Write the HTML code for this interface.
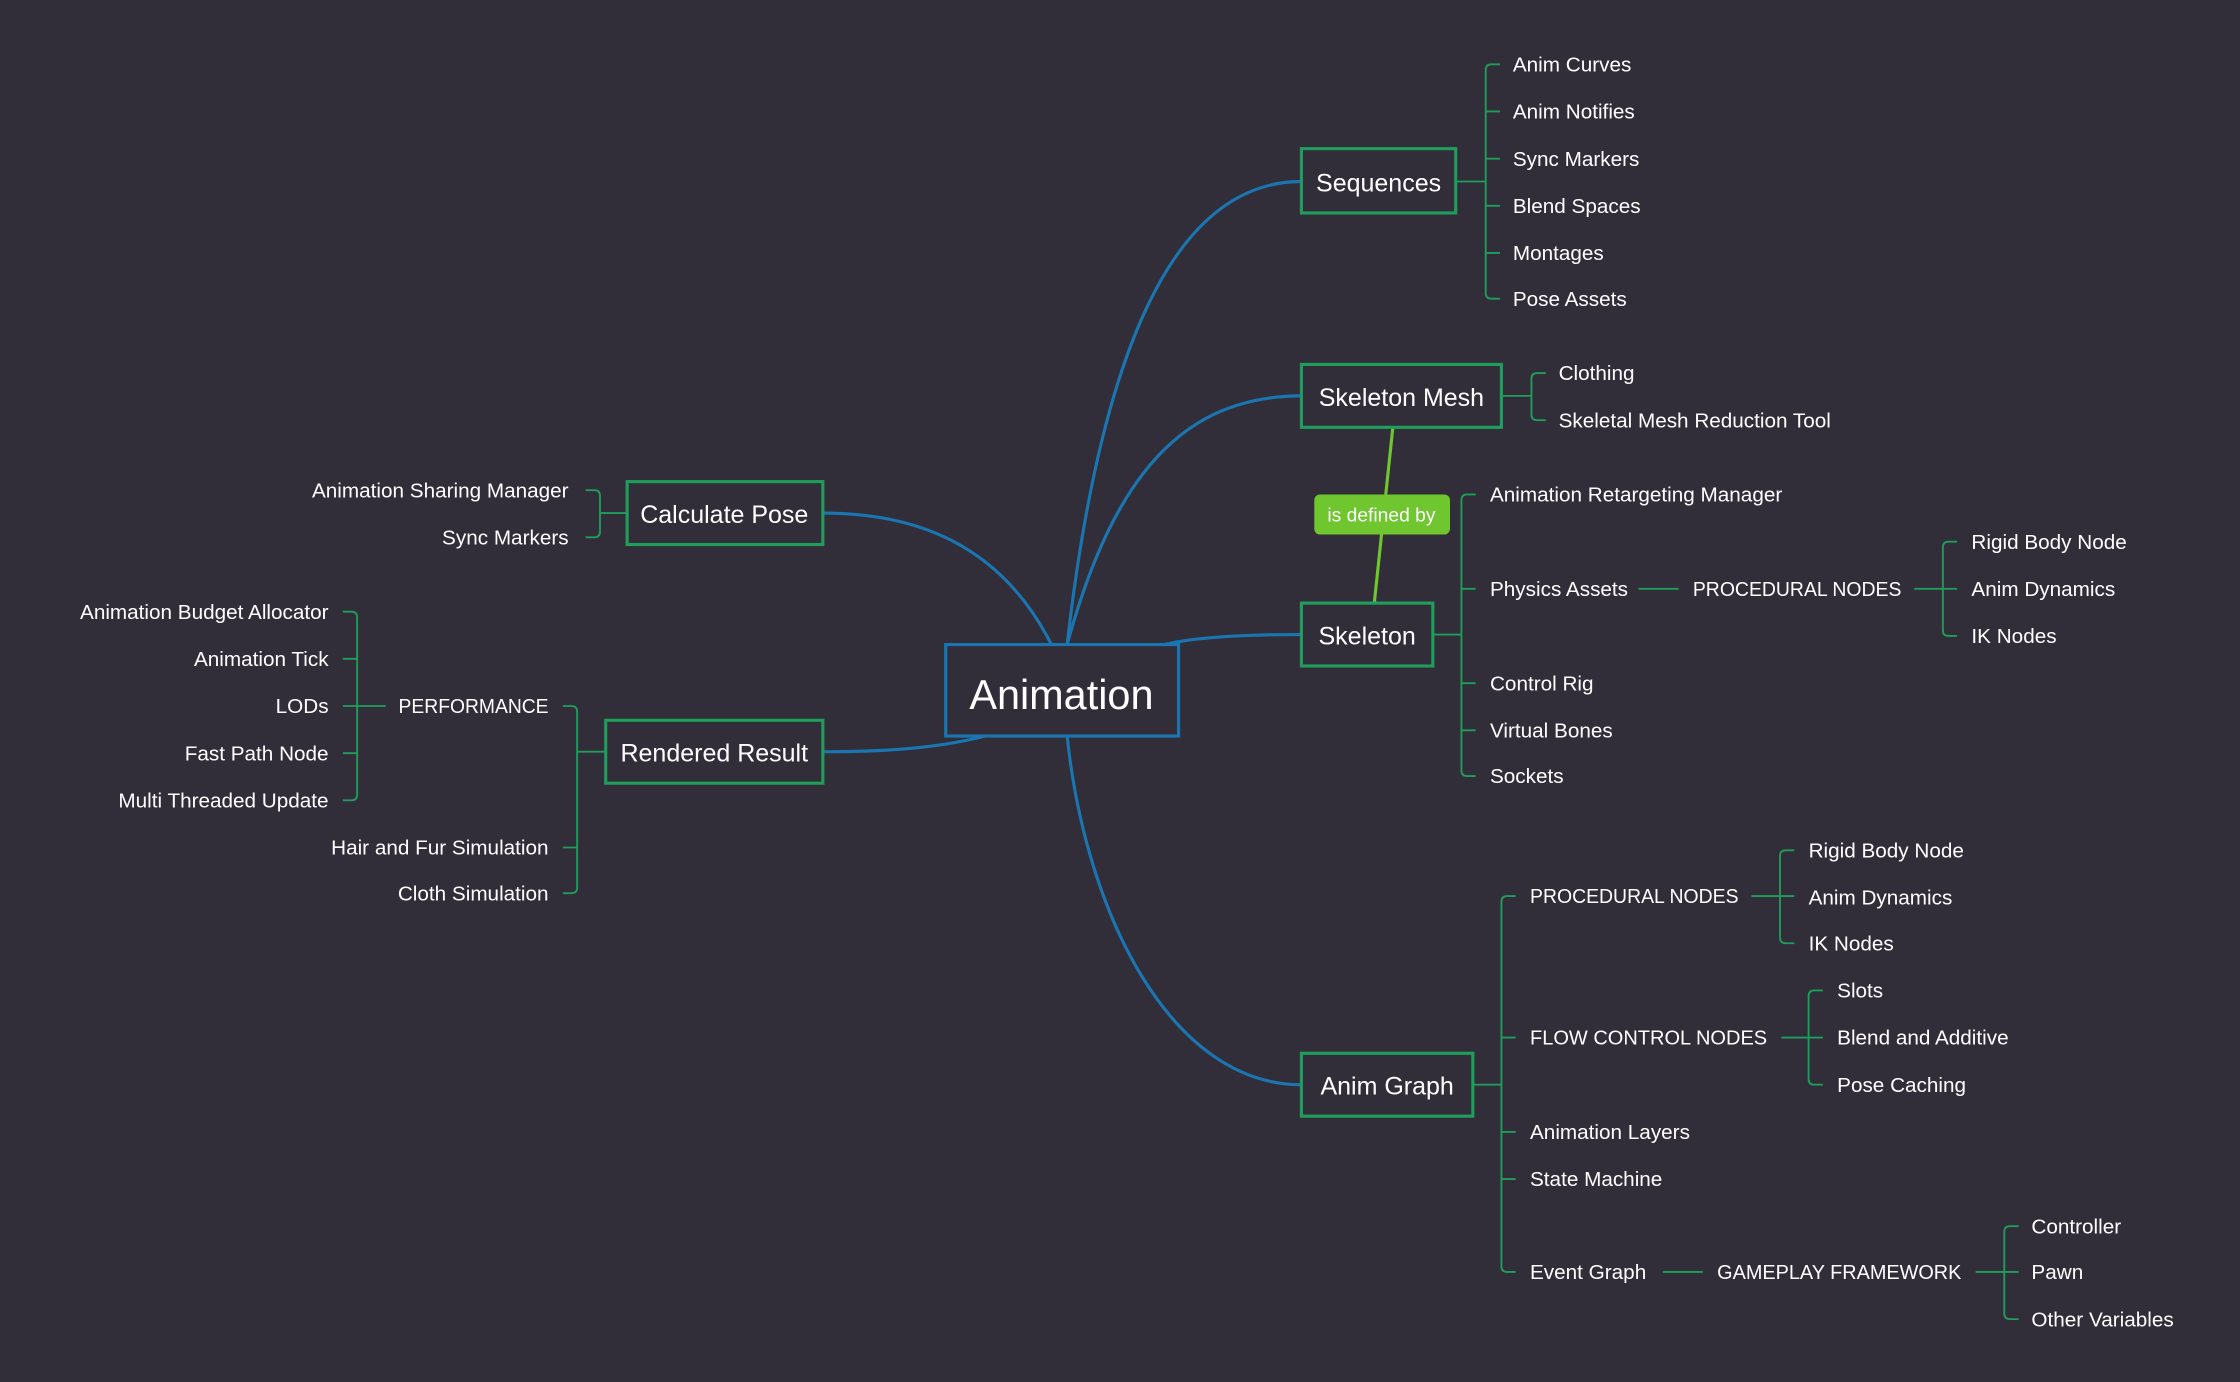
<!DOCTYPE html>
<html><head><meta charset="utf-8"><style>
html,body{margin:0;padding:0;background:#312e39;}
svg{display:block}
text{font-family:"Liberation Sans","DejaVu Sans",sans-serif;fill:#fff;}
</style></head><body>
<svg width="2240" height="1382" viewBox="0 0 1568 967" preserveAspectRatio="none" xmlns="http://www.w3.org/2000/svg">
<rect width="1568" height="967" fill="#312e39"/>
<g fill="none" stroke="#1a75b0" stroke-width="2.2">
<path d="M747,451 C770,250 820,127 911,127"/>
<path d="M747,451 C780,330 830,277 911,277"/>
<path d="M815,451 C840,445 880,444 911,444"/>
<path d="M747,515 C760,640 820,759 911,759"/>
<path d="M736,451 C700,380 640,359 576,359"/>
<path d="M690,515 C650,525 610,526 576,526"/>
</g>
<path d="M975,299 L962,422" stroke="#6fc62f" stroke-width="2.2" fill="none"/>
<g fill="none" stroke="#1f9d5b" stroke-width="1.3">
<path d="M1019,127 H1040 M1050,45 H1044 Q1040,45 1040,49 V205 Q1040,209 1044,209 H1050 M1040,78 H1050 M1040,111 H1050 M1040,144 H1050 M1040,177 H1050"/>
<path d="M1051,277 H1072 M1082,261 H1076 Q1072,261 1072,265 V290 Q1072,294 1076,294 H1082"/>
<path d="M1003,444 H1023 M1033,346 H1027 Q1023,346 1023,350 V539 Q1023,543 1027,543 H1033 M1023,412 H1033 M1023,478 H1033 M1023,511 H1033"/>
<path d="M1147,412 H1175 M1340,412 H1360 M1370,379 H1364 Q1360,379 1360,383 V441 Q1360,445 1364,445 H1370 M1360,412 H1370"/>
<path d="M1031,759 H1051 M1061,627 H1055 Q1051,627 1051,631 V886 Q1051,890 1055,890 H1061 M1051,726 H1061 M1051,792 H1061 M1051,825 H1061"/>
<path d="M1226,627 H1246 M1256,595 H1250 Q1246,595 1246,599 V656 Q1246,660 1250,660 H1256 M1246,627 H1256"/>
<path d="M1247,726 H1266 M1276,693 H1270 Q1266,693 1266,697 V755 Q1266,759 1270,759 H1276 M1266,726 H1276"/>
<path d="M1164,890 H1192 M1383,890 H1403 M1413,858 H1407 Q1403,858 1403,862 V919 Q1403,923 1407,923 H1413 M1403,890 H1413"/>
<path d="M439,359 H420 M410,343 H416 Q420,343 420,347 V372 Q420,376 416,376 H410"/>
<path d="M424,526 H404 M394,494 H400 Q404,494 404,498 V621 Q404,625 400,625 H394 M404,593 H394"/>
<path d="M270,494 H250 M240,428 H246 Q250,428 250,432 V556 Q250,560 246,560 H240 M250,461 H240 M250,494 H240 M250,527 H240"/>
</g>
<g fill="#312e39" stroke-width="2.2">
<rect x="662" y="451" width="163" height="64" stroke="#1a75b0"/>
<rect x="911" y="104" width="108" height="45" stroke="#1f9d5b"/>
<rect x="911" y="255" width="140" height="44" stroke="#1f9d5b"/>
<rect x="911" y="422" width="92" height="44" stroke="#1f9d5b"/>
<rect x="911" y="737" width="120" height="44" stroke="#1f9d5b"/>
<rect x="439" y="337" width="137" height="44" stroke="#1f9d5b"/>
<rect x="424" y="504" width="152" height="44" stroke="#1f9d5b"/>
</g>
<rect x="920" y="346" width="95" height="28" rx="4" fill="#6fc62f"/>
<text x="967" y="365" font-size="13.5" text-anchor="middle">is defined by</text>
<g text-anchor="middle">
<text x="743" y="496" font-size="29">Animation</text>
<text x="965" y="134" font-size="17.5">Sequences</text>
<text x="981" y="284" font-size="17.5">Skeleton Mesh</text>
<text x="957" y="451" font-size="17.5">Skeleton</text>
<text x="971" y="766" font-size="17.5">Anim Graph</text>
<text x="507" y="366" font-size="17.5">Calculate Pose</text>
<text x="500" y="533" font-size="17.5">Rendered Result</text>
</g>
<g font-size="14.5">
<text x="1059" y="50">Anim Curves</text>
<text x="1059" y="83">Anim Notifies</text>
<text x="1059" y="116">Sync Markers</text>
<text x="1059" y="149">Blend Spaces</text>
<text x="1059" y="182">Montages</text>
<text x="1059" y="214">Pose Assets</text>
<text x="1091" y="266">Clothing</text>
<text x="1091" y="299">Skeletal Mesh Reduction Tool</text>
<text x="1043" y="351">Animation Retargeting Manager</text>
<text x="1043" y="417">Physics Assets</text>
<text x="1185" y="417" textLength="146" lengthAdjust="spacingAndGlyphs">PROCEDURAL NODES</text>
<text x="1380" y="384">Rigid Body Node</text>
<text x="1380" y="417">Anim Dynamics</text>
<text x="1380" y="450">IK Nodes</text>
<text x="1043" y="483">Control Rig</text>
<text x="1043" y="516">Virtual Bones</text>
<text x="1043" y="548">Sockets</text>
<text x="1071" y="632" textLength="146" lengthAdjust="spacingAndGlyphs">PROCEDURAL NODES</text>
<text x="1266" y="600">Rigid Body Node</text>
<text x="1266" y="633">Anim Dynamics</text>
<text x="1266" y="665">IK Nodes</text>
<text x="1071" y="731" textLength="166" lengthAdjust="spacingAndGlyphs">FLOW CONTROL NODES</text>
<text x="1286" y="698">Slots</text>
<text x="1286" y="731">Blend and Additive</text>
<text x="1286" y="764">Pose Caching</text>
<text x="1071" y="797">Animation Layers</text>
<text x="1071" y="830">State Machine</text>
<text x="1071" y="895">Event Graph</text>
<text x="1202" y="895" textLength="171" lengthAdjust="spacingAndGlyphs">GAMEPLAY FRAMEWORK</text>
<text x="1422" y="863">Controller</text>
<text x="1422" y="895">Pawn</text>
<text x="1422" y="928">Other Variables</text>
</g>
<g font-size="14.5" text-anchor="end">
<text x="398" y="348">Animation Sharing Manager</text>
<text x="398" y="381">Sync Markers</text>
<text x="279" y="499" text-anchor="start" textLength="105" lengthAdjust="spacingAndGlyphs">PERFORMANCE</text>
<text x="384" y="598">Hair and Fur Simulation</text>
<text x="384" y="630">Cloth Simulation</text>
<text x="230" y="433">Animation Budget Allocator</text>
<text x="230" y="466">Animation Tick</text>
<text x="230" y="499">LODs</text>
<text x="230" y="532">Fast Path Node</text>
<text x="230" y="565">Multi Threaded Update</text>
</g>
</svg>
</body></html>
